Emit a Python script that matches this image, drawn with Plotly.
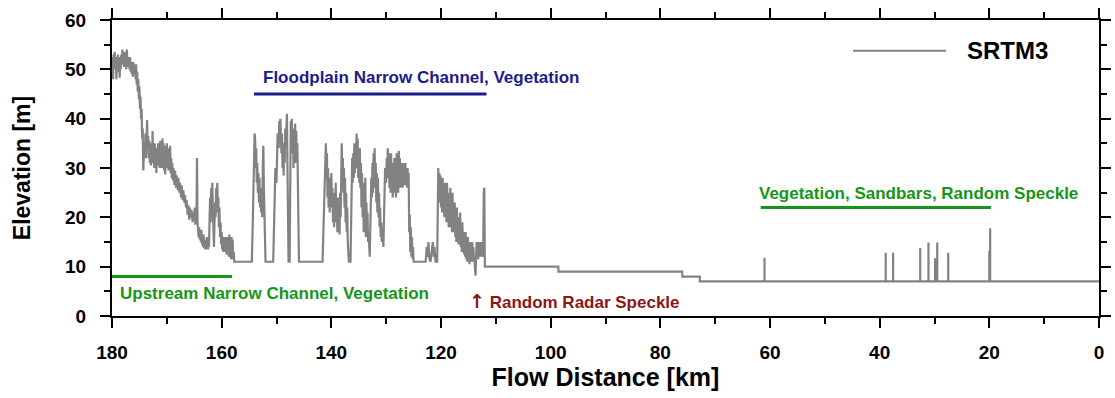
import plotly.graph_objects as go

# ---------------------------------------------------------------
# SRTM3 elevation profile along the channel (flow distance in km)
# ---------------------------------------------------------------

# headwater reach, 180 - 174.3 km
head_km = [180.0, 179.9, 179.8, 179.7, 179.6, 179.5, 179.4, 179.3, 179.2, 179.1,
           179.0, 178.9, 178.8, 178.7, 178.6, 178.5, 178.4, 178.3, 178.2, 178.1,
           178.0, 177.9, 177.8, 177.7, 177.6, 177.5, 177.4, 177.3, 177.2, 177.1,
           177.0, 176.9, 176.8, 176.7, 176.6, 176.5, 176.4, 176.3, 176.2, 176.1,
           176.0, 175.9, 175.8, 175.7, 175.6, 175.5, 175.4, 175.3, 175.2, 175.1,
           175.0, 174.9, 174.8, 174.7, 174.6, 174.5, 174.4, 174.3]
head_m = [49, 52.5, 48, 53, 50, 53.5, 51, 52.5, 48, 51.5,
          49.5, 53, 50.5, 52, 48.3, 52.5, 50, 53, 51, 54,
          51.5, 53, 50.5, 53.5, 51, 52.5, 50, 54, 52, 52.5,
          50.5, 52, 50, 52.5, 49.5, 51.5, 49, 51, 48.5, 51.5,
          49, 51, 50.5, 48, 51, 47, 49.5, 45.5, 48, 44,
          46.5, 42, 44.5, 40, 42, 36, 38, 29.5]

# upstream narrow channel, 174.2 - 162.5 km
upper_km = [174.2, 174.1, 174.0, 173.9, 173.8, 173.7, 173.6, 173.5, 173.4, 173.3,
            173.2, 173.1, 173.0, 172.9, 172.8, 172.7, 172.6, 172.5, 172.4, 172.3,
            172.2, 172.1, 172.0, 171.9, 171.8, 171.7, 171.6, 171.5, 171.4, 171.3,
            171.2, 171.1, 171.0, 170.9, 170.8, 170.7, 170.6, 170.5, 170.4, 170.3,
            170.2, 170.1, 170.0, 169.9, 169.8, 169.7, 169.6, 169.5, 169.4, 169.3,
            169.2, 169.1, 169.0, 168.9, 168.8, 168.6, 168.5, 168.3, 168.2, 168.0,
            167.9, 167.7, 167.6, 167.4, 167.3, 167.1, 167.0, 166.8, 166.7, 166.5,
            166.4, 166.2, 166.1, 165.9, 165.8, 165.6, 165.5, 165.3, 165.2, 165.0,
            164.9, 164.8, 164.7, 164.6, 164.5, 164.4, 164.3, 164.2, 164.1, 164.0,
            163.9, 163.8, 163.7, 163.6, 163.5, 163.4, 163.3, 163.2, 163.1, 163.0,
            162.9, 162.8, 162.7, 162.6, 162.5]
upper_m = [34, 35, 33, 37, 32, 35, 39.7, 34, 36.5, 32,
           35.5, 31, 34, 30.5, 35, 31, 37.5, 32, 34.5, 30,
           35, 31, 33.5, 29, 34, 30.5, 35, 31, 34, 30,
           35.5, 31.5, 34, 30, 36, 32, 35, 29.5, 33, 28.7,
           34.5, 30, 35, 31, 34, 29.5, 33, 30, 34.5, 29,
           32, 28, 31, 27.5, 30, 26.5, 29.5, 26, 28.5, 25.5,
           28, 25, 27, 24, 26.5, 23.5, 25.5, 23, 24.5, 22,
           23.5, 20.5, 22.5, 19.5, 22, 20, 21.5, 19, 21, 19.5,
           22, 18.5, 20.5, 19, 32, 19, 17.5, 16, 18, 15.5,
           17, 15, 17.5, 14.5, 16, 14, 16.5, 13.8, 15.5, 13.5,
           15, 13.5, 16, 14, 13.5]

# end of the upstream channel, 162.4 - 154.5 km
bend_km = [162.4, 162.3, 162.2, 162.1, 162.0, 161.9, 161.8, 161.7, 161.6, 161.5,
           161.4, 161.3, 161.2, 161.1, 161.0, 160.9, 160.8, 160.7, 160.6, 160.5,
           160.4, 160.3, 160.2, 160.1, 160.0, 159.9, 159.8, 159.7, 159.6, 159.5,
           159.4, 159.3, 159.2, 159.1, 159.0, 158.9, 158.8, 158.7, 158.6, 158.5,
           158.4, 158.3, 158.2, 158.1, 158.0, 157.9, 157.8, 157.7, 154.5]
bend_m = [16, 14, 20, 24, 19, 26, 22, 27, 21, 17,
          14, 19, 23, 20, 26, 22, 27, 21, 24, 18,
          22, 16, 19, 14.5, 17, 13.5, 16, 13, 15.5, 13,
          16, 13.5, 15, 12.5, 16, 13, 14.5, 12, 16.5, 12,
          16, 11.5, 16, 12, 15.5, 11.5, 13, 11, 11]

# floodplain, first vegetated blocks, 154.3 - 141.6 km
flood_a_km = [154.3, 154.1, 154.0, 153.9, 153.8, 153.7, 153.6, 153.5, 153.4, 153.3,
              153.2, 153.1, 153.0, 152.9, 152.8, 152.7, 152.6, 152.5, 152.4, 152.3,
              152.2, 152.1, 152.0, 150.6, 150.4, 150.2, 150.0, 149.8, 149.6, 149.5,
              149.4, 149.3, 149.1, 149.0, 148.9, 148.8, 148.7, 148.6, 148.5, 148.4,
              148.3, 148.2, 148.1, 148.0, 147.9, 147.8, 147.6, 147.5, 147.4, 147.3,
              147.2, 147.1, 147.0, 146.9, 146.8, 146.7, 146.6, 146.5, 146.4, 146.3,
              146.2, 146.1, 146.0, 145.9, 141.6]
flood_a_m = [20, 33, 37, 36, 30, 34, 27, 31, 25, 29,
             23, 28, 22, 26, 21, 25, 20, 30, 34.5, 26,
             20, 15, 11, 11, 22, 30, 27, 37, 34, 39.5,
             35, 40, 33, 37, 30, 34, 28.5, 35, 31, 38,
             34, 39, 41, 30, 18, 11, 11, 25, 39.5, 37,
             40, 33, 38, 30, 36, 31, 39, 34, 37.5, 31,
             35, 29, 20, 11, 11]

# floodplain, middle blocks, 141.4 - 127.4 km
flood_b_km = [141.4, 141.2, 141.0, 140.9, 140.8, 140.7, 140.6, 140.5, 140.4, 140.3,
              140.2, 140.1, 140.0, 139.9, 139.8, 139.7, 139.6, 139.5, 139.4, 139.3,
              139.2, 139.1, 139.0, 138.9, 138.8, 138.7, 138.6, 138.5, 138.4, 138.3,
              138.2, 138.1, 138.0, 137.9, 137.8, 137.7, 137.6, 137.5, 137.4, 137.3,
              137.2, 137.1, 137.0, 136.9, 136.8, 136.5, 136.4, 136.3, 136.2, 136.1,
              136.0, 135.9, 135.8, 135.7, 135.6, 135.5, 135.4, 135.3, 135.2, 135.1,
              135.0, 134.9, 134.8, 134.7, 134.6, 134.5, 134.4, 134.3, 134.2, 134.1,
              134.0, 133.9, 133.8, 133.7, 133.6, 133.5, 133.4, 133.3, 133.2, 133.0,
              132.9, 132.8, 132.7, 132.6, 132.5, 132.4, 132.3, 132.2, 132.1, 132.0,
              131.9, 131.8, 131.7, 131.6, 131.5, 131.4, 131.3, 131.2, 131.1, 131.0,
              130.9, 130.8, 130.7, 130.5, 130.4, 130.3, 130.2, 130.0, 129.9, 129.8,
              129.7, 129.6, 129.5, 129.4, 129.3, 129.2, 129.1, 129.0, 128.9, 128.8,
              128.7, 128.6, 128.5, 128.4, 128.3, 128.2, 128.1, 128.0, 127.9, 127.8,
              127.7, 127.6, 127.5, 127.4]
flood_b_m = [20, 30, 35, 28, 33, 24, 30, 22, 28, 21,
             27, 23, 29, 22, 26, 19, 25, 18, 24, 20,
             27, 19, 23, 17, 24, 18, 22, 16.5, 25, 20,
             33, 35, 28, 32, 25, 30, 22, 28, 19, 25,
             17, 22, 15, 13, 11, 11, 20, 28, 32, 27,
             33, 28, 35, 29, 34, 30, 37, 32, 36, 28,
             33, 27, 34, 26, 31, 22, 29, 20, 27, 17,
             25, 19, 28, 16, 23, 18, 21, 15, 17, 12,
             16, 22, 28, 24, 31, 25, 33, 27, 34, 26,
             31, 23, 29, 21, 28, 20, 25, 18, 22, 16,
             19, 15, 18, 14, 20, 26, 30, 27, 32, 28,
             34, 29, 33, 26, 31, 25, 33, 27, 31, 24,
             30, 26, 32, 25, 29, 24, 33, 26, 31, 25,
             33.5, 27, 32, 26]

# floodplain, last blocks down to the radar speckle, 127.3 - 112.0 km
flood_c_km = [127.3, 127.2, 127.1, 127.0, 126.9, 126.8, 126.7, 126.6, 126.5, 126.4,
              126.3, 126.2, 126.1, 126.0, 125.9, 125.8, 125.7, 125.6, 125.5, 125.4,
              125.3, 125.2, 125.1, 125.0, 122.8, 122.6, 122.4, 122.3, 122.1, 121.9,
              121.7, 121.5, 121.3, 121.2, 121.0, 120.7, 120.6, 120.5, 120.4, 120.3,
              120.2, 120.1, 120.0, 119.9, 119.8, 119.7, 119.6, 119.5, 119.4, 119.3,
              119.2, 119.1, 119.0, 118.9, 118.8, 118.7, 118.6, 118.5, 118.4, 118.3,
              118.2, 118.1, 118.0, 117.9, 117.8, 117.7, 117.6, 117.5, 117.4, 117.3,
              117.2, 117.1, 117.0, 116.9, 116.8, 116.7, 116.6, 116.5, 116.4, 116.3,
              116.2, 116.1, 116.0, 115.9, 115.8, 115.7, 115.6, 115.5, 115.4, 115.3,
              115.2, 115.1, 115.0, 114.9, 114.8, 114.7, 114.6, 114.5, 114.4, 114.3,
              114.2, 114.1, 114.0, 113.9, 113.8, 113.7, 113.6, 113.5, 113.4, 113.3,
              113.2, 113.1, 113.0, 112.9, 112.8, 112.7, 112.6, 112.5, 112.4, 112.3,
              112.2, 112.1, 112.0]
flood_c_m = [31, 27, 30.5, 26, 31, 27, 30, 26.5, 31, 27,
             29.5, 26, 30, 27, 29, 17, 20.5, 13, 18, 12,
             16, 11.6, 14, 11, 11, 14, 12, 15, 11.5, 11,
             13, 15, 12, 14, 11, 11, 20, 30, 24, 29,
             23, 28.5, 22, 27, 21, 28, 23, 26, 20, 27,
             21, 25, 19, 27, 21, 25, 18, 24, 19, 26,
             18, 23, 17, 25, 19, 22, 17, 23, 16, 21,
             15, 22, 16, 20, 14.5, 19, 15, 21, 14, 18,
             13, 19, 14, 17, 12.5, 16, 12, 17, 11.5, 15,
             11, 16, 12, 14, 10.5, 15, 12, 13.5, 11, 15,
             12, 14, 11, 12, 9.5, 8.2, 12, 15, 12, 14.5,
             11.5, 15, 12.5, 14, 12, 15, 13, 14.5, 12, 13.5,
             25, 26, 10]

# downstream reach: stepped surface levels
step_km = [111.9, 98.6, 98.6, 76.0, 76.0, 72.8, 72.8, 0.0]
step_m = [10, 10, 9, 9, 8, 8, 7, 7]

# isolated spikes on the 7 m level (vegetation, sandbars, speckle)
spike_km = [61.0, 38.9, 37.55, 32.6, 31.1, 29.9, 29.5, 27.5, 20.0, 19.85]
spike_top = [11.8, 12.8, 12.8, 13.8, 14.9, 11.7, 14.9, 12.8, 13.2, 17.8]
spike_base = 7

# ---------------------------------------------------------------
segments = [(head_km, head_m), (upper_km, upper_m), (bend_km, bend_m),
            (flood_a_km, flood_a_m), (flood_b_km, flood_b_m), (flood_c_km, flood_c_m)]
x_vals, y_vals = [], []
for kms, ms in segments:
    assert len(kms) == len(ms)
    x_vals += kms
    y_vals += ms

down = list(zip(step_km, step_m))
for s, t in zip(spike_km, spike_top):
    down += [(s, spike_base), (s, t), (s, spike_base)]
down.sort(key=lambda p: -p[0])
x_vals += [p[0] for p in down]
y_vals += [p[1] for p in down]

LINE_GREY = "#828282"
BLUE = "#1c1c8c"
GREEN = "#169616"
DARK_RED = "#8c1616"
FONT = "Liberation Sans, Arial, Helvetica, sans-serif"

fig = go.Figure()
fig.add_trace(go.Scatter(x=x_vals, y=y_vals, mode="lines",
                         line=dict(color=LINE_GREY, width=2.2),
                         name="SRTM3", showlegend=False))

# reach labels with their underline spans (km_from, km_to, elevation)
reach_labels = [
    ("Floodplain Narrow Channel, Vegetation", 123.6, 48.3, BLUE, (154.1, 111.7, 45)),
    ("Upstream Narrow Channel, Vegetation", 150.3, 4.6, GREEN, (180.0, 158.1, 8)),
    ("Vegetation, Sandbars, Random Speckle", 33.0, 24.9, GREEN, (61.7, 19.7, 22)),
]
for text, xc, yc, col, (x0, x1, yl) in reach_labels:
    fig.add_annotation(x=xc, y=yc, text=text, showarrow=False,
                       xanchor="center", yanchor="middle",
                       font=dict(family=FONT, size=17, color=col, weight="bold"))
    fig.add_shape(type="line", x0=x0, x1=x1, y0=yl, y1=yl, xref="x", yref="y",
                  line=dict(color=col, width=3))

fig.add_annotation(x=115.3, y=3.0,
                   text='<span style="font-family:DejaVu Sans;font-size:19px">\u2191</span> Random Radar Speckle',
                   showarrow=False, xanchor="left", yanchor="middle",
                   font=dict(family=FONT, size=17, color=DARK_RED, weight="bold"))

# legend entry
fig.add_shape(type="line", xref="paper", yref="paper", x0=0.7508, x1=0.845,
              y0=0.896, y1=0.896, line=dict(color=LINE_GREY, width=2))
fig.add_annotation(xref="paper", yref="paper", x=0.864, y=0.896, text="SRTM3",
                   showarrow=False, xanchor="left", yanchor="middle",
                   font=dict(family=FONT, size=24, color="black", weight="bold"))

axis_common = dict(showline=True, linecolor="black", linewidth=2, mirror="ticks",
                   ticks="outside", ticklen=10, tickwidth=2, tickcolor="black",
                   showgrid=False, zeroline=False, automargin=False,
                   tickfont=dict(family=FONT, size=19, color="black", weight="bold"))

fig.update_xaxes(range=[180, 0], tick0=0, dtick=20,
                 minor=dict(dtick=10, ticklen=6, tickwidth=1.5, ticks="outside",
                            tickcolor="black", showgrid=False),
                 ticklabelstandoff=8,
                 title=dict(text="Flow Distance [km]", standoff=7,
                            font=dict(family=FONT, size=25, color="black", weight="bold")),
                 **axis_common)
fig.update_yaxes(range=[0, 60], tick0=0, dtick=10,
                 minor=dict(dtick=5, ticklen=6, tickwidth=1.5, ticks="outside",
                            tickcolor="black", showgrid=False),
                 ticklabelstandoff=10,
                 title=dict(text="Elevation [m]", standoff=28,
                            font=dict(family=FONT, size=23, color="black", weight="bold")),
                 **axis_common)

fig.update_layout(width=1115, height=398, template="none",
                  margin=dict(l=112, r=16, t=20, b=82),
                  plot_bgcolor="white", paper_bgcolor="white",
                  showlegend=False)

fig.write_html("out.html")
